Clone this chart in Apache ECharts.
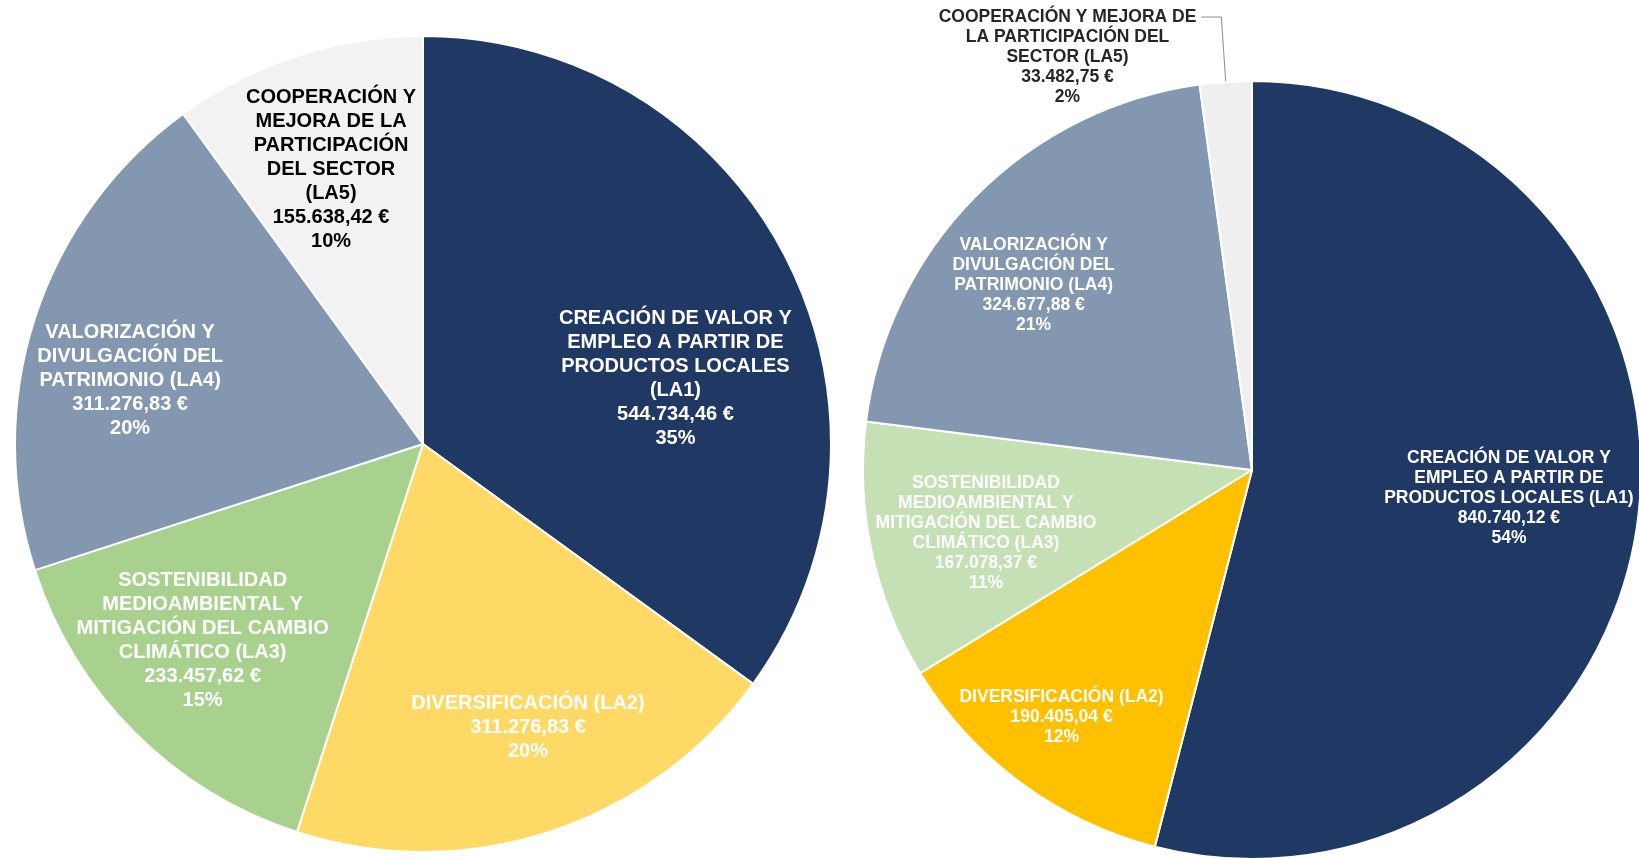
<!DOCTYPE html>
<html>
<head>
<meta charset="utf-8">
<script src="https://cdn.jsdelivr.net/npm/echarts@6/dist/echarts.min.js"></script>
<style>
html,body{margin:0;padding:0;background:#fff;}
#chart{width:1639px;height:858px;}
</style>
</head>
<body>
<div id="chart"></div>
<script>
// ---- Data ----
const leftNames = [
  'CREACIÓN DE VALOR Y\nEMPLEO A PARTIR DE\nPRODUCTOS LOCALES\n(LA1)',
  'DIVERSIFICACIÓN (LA2)',
  'SOSTENIBILIDAD\nMEDIOAMBIENTAL Y\nMITIGACIÓN DEL CAMBIO\nCLIMÁTICO (LA3)',
  'VALORIZACIÓN Y\nDIVULGACIÓN DEL\nPATRIMONIO (LA4)',
  'COOPERACIÓN Y\nMEJORA DE LA\nPARTICIPACIÓN\nDEL SECTOR\n(LA5)'
];
const leftValues = [544734.46, 311276.83, 233457.62, 311276.83, 155638.42];

const rightNames = [
  'CREACIÓN DE VALOR Y\nEMPLEO A PARTIR DE\nPRODUCTOS LOCALES (LA1)',
  'DIVERSIFICACIÓN (LA2)',
  'SOSTENIBILIDAD\nMEDIOAMBIENTAL Y\nMITIGACIÓN DEL CAMBIO\nCLIMÁTICO (LA3)',
  'VALORIZACIÓN Y\nDIVULGACIÓN DEL\nPATRIMONIO (LA4)',
  'COOPERACIÓN Y MEJORA DE\nLA PARTICIPACIÓN DEL\nSECTOR (LA5)'
];
const rightValues = [840740.12, 190405.04, 167078.37, 324677.88, 33482.75];

// ---- Styles ----
const leftColors = ['#203864', '#FFD966', '#A9D18E', '#8497B0', '#F2F2F2'];
const rightColors = ['#203864', '#FFC000', '#C5E0B4', '#8497B0', '#EFEFEF'];
const leftTextColors = ['#fff', '#fff', '#fff', '#fff', '#000'];
const rightTextColors = ['#fff', '#fff', '#fff', '#fff', '#262626'];
// label nudges relative to the library's inside position
const leftNudge = [[68, 28], [41, 87], [-74, 50], [-96, 0], [-28, -78]];
const rightNudge = [[61, 3], [-73, 88], [-73, 22], [-78, -46], null];

function fmtEur(v) {
  const parts = v.toFixed(2).split('.');
  const int = parts[0].replace(/\B(?=(\d{3})+(?!\d))/g, '.');
  return int + ',' + parts[1] + ' €';
}
function labelFormatter(p) {
  const lines = p.name.split('\n').concat([fmtEur(p.value), Math.round(p.percent) + '%']);
  return lines.map(l => '{c|' + l + '}').join('\n');
}

const FONT = '"Liberation Sans", Arial, sans-serif';

function buildData(names, values, colors, textColors, size, lh) {
  return names.map((n, i) => ({
    name: n,
    value: values[i],
    itemStyle: { color: colors[i] },
    label: {
      rich: { c: { align: 'center', color: textColors[i], fontSize: size, lineHeight: lh, fontWeight: 'bold', fontFamily: FONT } }
    }
  }));
}

const leftData = buildData(leftNames, leftValues, leftColors, leftTextColors, 20, 24);
const rightData = buildData(rightNames, rightValues, rightColors, rightTextColors, 17.5, 20);
// small slice on the right pie: label outside with leader line
rightData[4].label.position = 'outside';
rightData[4].label.padding = [80, 0, 0, 0];
rightData[4].labelLine = { show: true, length: 65, length2: 20, lineStyle: { color: '#8c8c8c', width: 1 } };

const chart = echarts.init(document.getElementById('chart'));
chart.setOption({
  backgroundColor: '#ffffff',
  animation: false,
  series: [
    {
      type: 'pie',
      center: [423, 444],
      radius: 408,
      startAngle: 90,
      clockwise: true,
      avoidLabelOverlap: false,
      itemStyle: { borderColor: '#ffffff', borderWidth: 2 },
      label: { show: true, position: 'inside', formatter: labelFormatter },
      labelLine: { show: false },
      labelLayout: function (p) {
        const d = leftNudge[p.dataIndex];
        return d ? { dx: d[0], dy: d[1] } : {};
      },
      emphasis: { disabled: true },
      data: leftData
    },
    {
      type: 'pie',
      center: [1252, 470],
      radius: 389,
      startAngle: 90,
      clockwise: true,
      avoidLabelOverlap: false,
      itemStyle: { borderColor: '#ffffff', borderWidth: 2 },
      label: { show: true, position: 'inside', formatter: labelFormatter, alignTo: 'none', distanceToLabelLine: 5 },
      labelLine: { show: false },
      labelLayout: function (p) {
        const d = rightNudge[p.dataIndex];
        return d ? { dx: d[0], dy: d[1] } : {};
      },
      emphasis: { disabled: true },
      data: rightData
    }
  ]
});
</script>
</body>
</html>
